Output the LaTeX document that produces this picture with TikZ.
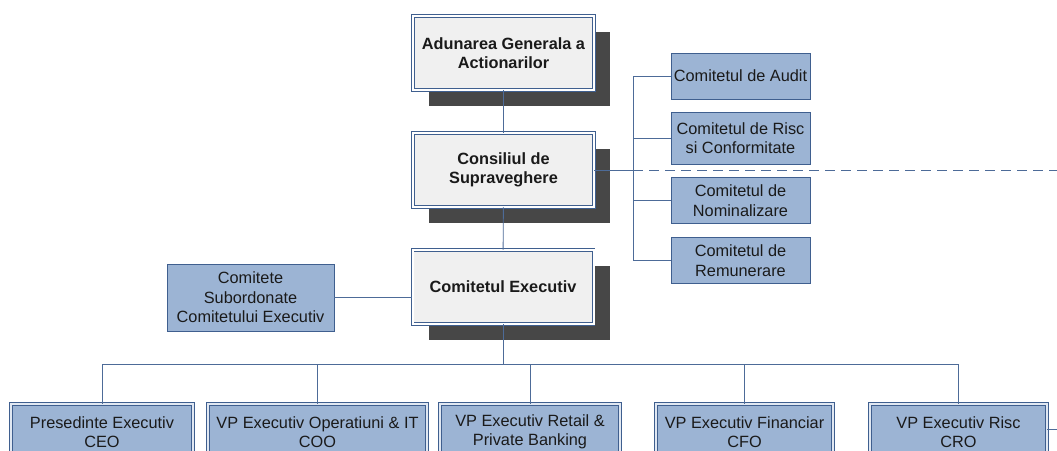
\documentclass[tikz,border=0pt]{standalone}
\usepackage{fontspec}
\setmainfont{Liberation Sans}
\usetikzlibrary{positioning}
\definecolor{boxblue}{HTML}{9CB4D4}
\definecolor{edgeblue}{HTML}{3F5F8F}
\definecolor{linkblue}{HTML}{4D6B98}
\definecolor{shadegray}{HTML}{474747}
\definecolor{paper}{HTML}{F0F0F0}
\definecolor{inkgray}{HTML}{1A1A1A}

\begin{document}
\begin{tikzpicture}[
  x=1pt, y=-1pt,
  every node/.style={text=inkgray, font=\fontsize{16.3}{19.5}\selectfont, align=center, inner sep=2pt},
  boardbox/.style={fill=paper, draw=edgeblue, double=white, double distance=2pt, line width=0.7pt, minimum width=181pt, minimum height=74pt, font=\fontsize{16.3}{19.5}\selectfont\bfseries, preaction={fill=shadegray, transform canvas={xshift=16pt, yshift=-16pt}}},
  combox/.style={fill=boxblue, draw=edgeblue, line width=0.9pt, minimum width=139pt, minimum height=46pt},
  rolebox/.style={fill=boxblue, draw=edgeblue, double=boxblue!30, double distance=1.6pt, line width=0.85pt, minimum height=56pt},
  link/.style={draw=linkblue, line width=0.9pt},
]

% Page
\path[use as bounding box, fill=white] (0,0) rectangle (1057,450);

% Board nodes (centre column)
\node[boardbox] (aga) at (503.5,53) {Adunarea Generala a\\Actionarilor};
\node[boardbox] (cons) at (503.5,170) {Consiliul de\\Supraveghere};
\node[boardbox] (exec) at (503,287) {Comitetul Executiv};

% Committees of the board
\node[combox] (aud) at (740.5,76) {Comitetul de Audit};
\node[combox, minimum height=52pt] (risc) at (740.5,138) {Comitetul de Risc\\si Conformitate};
\node[combox] (nom) at (740.5,200.5) {Comitetul de\\Nominalizare};
\node[combox] (rem) at (740.5,260.5) {Comitetul de\\Remunerare};

% Subordinate committees
\node[combox, minimum width=167pt, minimum height=67pt] (sub) at (250.5,297.5) {Comitete\\Subordonate\\Comitetului Executiv};

% Executive roles (bottom row)
\node[rolebox, minimum width=182pt] (ceo) at (102,432) {Presedinte Executiv\\CEO};
\node[rolebox, minimum width=219pt] (coo) at (317.5,432) {VP Executiv Operatiuni \& IT\\COO};
\node[rolebox, minimum width=180pt] (retail) at (530,432) {VP Executiv Retail \&\\Private Banking};
\node[rolebox, minimum width=177pt] (cfo) at (744.5,432) {VP Executiv Financiar\\CFO};
\node[rolebox, minimum width=177pt] (cro) at (958.5,432) {VP Executiv Risc\\CRO};

% Free ends
\coordinate (spine) at (633,170);
\coordinate (edge) at (1057,170);
\coordinate (bus) at (503,364);
\coordinate (rim) at (1057,429);

% Centre column links
\draw[link] (aga) -- (cons);
\draw[link] (cons) -- (exec);
\draw[link] (sub.east) -- (sub.east -| exec.west);

% Committee spine
\draw[link] (cons.east) -- (spine);
\draw[link] (aud.west) -- (aud.west -| spine) -- (rem.west -| spine) -- (rem.west);
\foreach \c in {risc,nom}
  \draw[link] (\c.west -| spine) -- (\c.west);
\draw[link, dash pattern=on 10pt off 6pt] (spine) -- (edge);

% Executive bus
\draw[link] (exec.south) -- (bus);
\draw[link] (ceo.north |- bus) -- (cro.north |- bus);
\foreach \r in {ceo,coo,retail,cfo,cro}
  \draw[link] (\r.north |- bus) -- (\r.north);
\draw[link] (cro.east |- rim) -- (rim);

\end{tikzpicture}
\end{document}
